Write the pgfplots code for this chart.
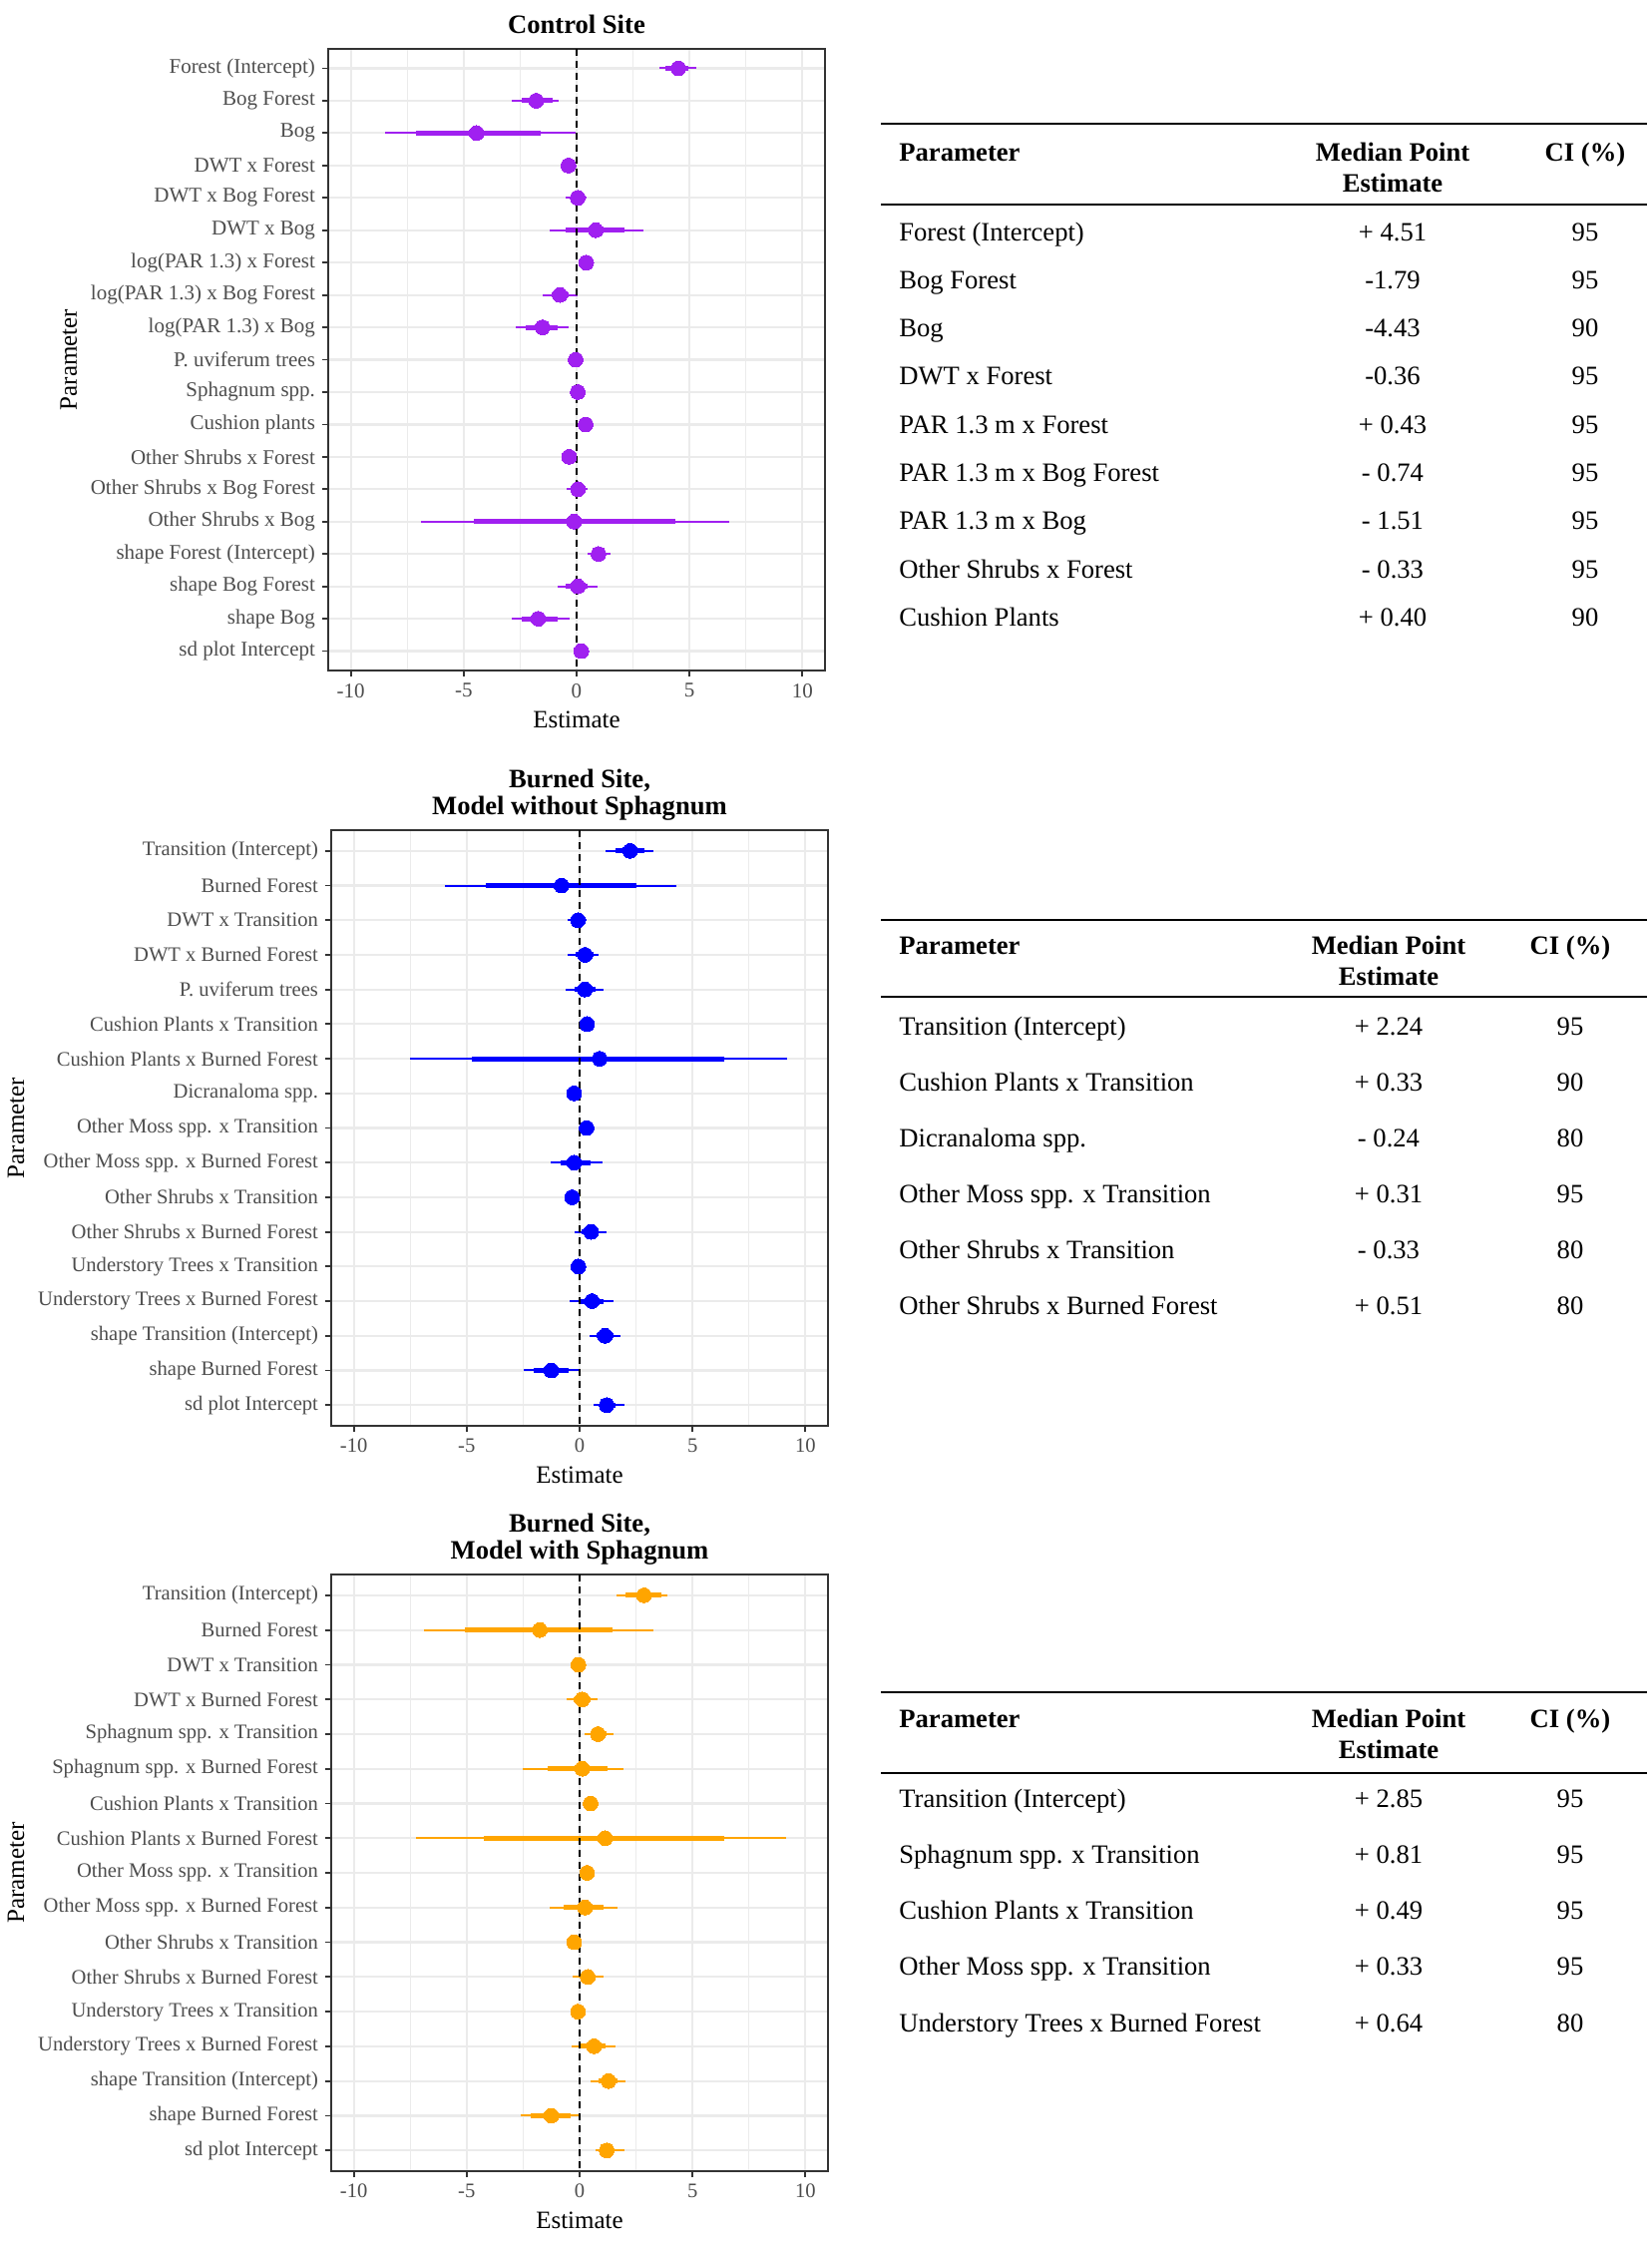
\documentclass[border=0pt]{standalone}
\usepackage{fontspec}
\setmainfont{Liberation Serif}
\usepackage{pgfplots}
\usepackage{pgfplotstable}
\pgfplotsset{compat=1.18}
\definecolor{cpurple}{HTML}{A020F0}
\definecolor{cblue}{HTML}{0000FF}
\definecolor{corange}{HTML}{FFA500}
\definecolor{gridc}{HTML}{EBEBEB}
\definecolor{g20}{HTML}{333333}
\definecolor{g30}{HTML}{4D4D4D}

% columns: y, outer low, inner low, median, inner high, outer high
\pgfplotstableread{
y lo ilo m ihi hi
1 3.66 3.95 4.51 4.96 5.28
2 -2.88 -2.43 -1.79 -1.07 -0.81
3 -8.46 -7.13 -4.43 -1.59 -0.04
4 -0.68 -0.52 -0.36 -0.20 -0.05
5 -0.47 -0.20 0.05 0.28 0.42
6 -1.21 -0.47 0.85 2.13 2.97
7 0.15 0.28 0.43 0.58 0.72
8 -1.48 -1.12 -0.74 -0.35 0.04
9 -2.70 -2.27 -1.51 -0.83 -0.37
10 -0.30 -0.17 -0.04 0.09 0.20
11 -0.22 -0.08 0.05 0.18 0.30
12 0.12 0.26 0.40 0.54 0.68
13 -0.62 -0.47 -0.33 -0.19 -0.05
14 -0.42 -0.16 0.06 0.27 0.49
15 -6.88 -4.55 -0.11 4.36 6.78
16 0.49 0.72 0.97 1.22 1.50
17 -0.83 -0.47 0.06 0.49 0.92
18 -2.88 -2.43 -1.70 -0.85 -0.33
19 0.02 0.10 0.21 0.32 0.42
}\tA

\pgfplotstableread{
y lo ilo m ihi hi
1 1.13 1.57 2.24 2.89 3.25
2 -5.98 -4.17 -0.80 2.53 4.29
3 -0.55 -0.30 -0.07 0.12 0.31
4 -0.53 -0.19 0.24 0.60 0.84
5 -0.60 -0.24 0.24 0.70 1.04
6 0.05 0.18 0.33 0.46 0.60
7 -7.52 -4.77 0.89 6.39 9.20
8 -0.55 -0.40 -0.24 -0.10 0.05
9 0.05 0.18 0.31 0.44 0.58
10 -1.28 -0.84 -0.24 0.48 1.01
11 -0.62 -0.48 -0.33 -0.20 -0.05
12 -0.24 0.10 0.51 0.85 1.20
13 -0.30 -0.16 -0.05 0.07 0.20
14 -0.43 0.00 0.55 1.08 1.52
15 0.43 0.75 1.13 1.50 1.81
16 -2.46 -2.05 -1.25 -0.48 0.05
17 0.60 0.90 1.20 1.60 1.98
}\tB

\pgfplotstableread{
y lo ilo m ihi hi
1 1.64 2.05 2.85 3.61 3.90
2 -6.87 -5.06 -1.76 1.45 3.25
3 -0.35 -0.20 -0.05 0.10 0.25
4 -0.58 -0.25 0.12 0.50 0.80
5 0.24 0.48 0.81 1.20 1.52
6 -2.53 -1.40 0.12 1.25 1.93
7 0.22 0.35 0.49 0.62 0.75
8 -7.23 -4.22 1.13 6.39 9.16
9 0.06 0.20 0.33 0.46 0.60
10 -1.33 -0.72 0.24 1.08 1.69
11 -0.50 -0.38 -0.24 -0.10 0.05
12 -0.29 0.05 0.36 0.72 1.04
13 -0.35 -0.20 -0.07 0.08 0.22
14 -0.36 0.05 0.64 1.16 1.61
15 0.48 0.85 1.28 1.70 2.05
16 -2.60 -2.17 -1.25 -0.41 0.05
17 0.72 0.95 1.20 1.55 1.98
}\tC

\pgfplotsset{
  fp/.style={
    scale only axis, width=249pt,
    xmin=-11, xmax=11, y dir=reverse,
    xtick={-10,-5,0,5,10}, xticklabels={-10,-5,0,5,10},
    minor xtick={-7.5,-2.5,2.5,7.5},
    xtick pos=bottom, ytick pos=left,
    grid=both,
    major grid style={draw=gridc, line width=1.1pt},
    minor grid style={draw=gridc, line width=0.55pt},
    axis line style={draw=g20, line width=1pt},
    tick align=outside, major tick length=3pt, minor tick length=0pt,
    tick style={draw=g20, line width=0.9pt},
    every tick label/.append style={font=\fontsize{#1}{12}\selectfont, text=g30},
    label style={font=\fontsize{12.5}{14}\selectfont},
    xlabel={Estimate}, ylabel={Parameter},
    title style={font=\fontsize{13.3}{13.3}\selectfont\bfseries, align=center, anchor=south, inner sep=0pt},
    anchor=south west,
  },
  outer/.style={only marks, mark=*, mark size=3.7pt, color=#1,
    mark options={fill=#1, draw=#1, line width=0pt},
    error bars/.cd, x dir=both, x explicit, error mark=none,
    error bar style={line width=1pt, color=#1}},
  inner/.style={only marks, mark=*, mark size=3.7pt, color=#1,
    mark options={fill=#1, draw=#1, line width=0pt},
    error bars/.cd, x dir=both, x explicit, error mark=none,
    error bar style={line width=2.5pt, color=#1}},
  zeroline/.style={black, line width=0.85pt, dash pattern=on 3.5pt off 2.5pt},
}

\begin{document}
\begin{tikzpicture}[x=0.5pt, y=-0.5pt]
\path[use as bounding box] (0,0) rectangle (1656,2251);

% ---------------- Panel 1 ----------------
\begin{axis}[fp=10.5, at={(164.5pt,-336pt)}, height=311.5pt,
  ymin=0.4, ymax=19.6, ytick={1,...,19},
  yticklabels={Forest (Intercept), Bog Forest, Bog, DWT x Forest, DWT x Bog Forest, DWT x Bog,
    log(PAR 1.3) x Forest, log(PAR 1.3) x Bog Forest, log(PAR 1.3) x Bog, P. uviferum trees,
    Sphagnum spp., Cushion plants, Other Shrubs x Forest, Other Shrubs x Bog Forest,
    Other Shrubs x Bog, shape Forest (Intercept), shape Bog Forest, shape Bog, sd plot Intercept},
  title={Control Site}, title style={yshift=1.5pt}]
\addplot[outer=cpurple] table[x=m, y=y, x error plus expr=\thisrow{hi}-\thisrow{m}, x error minus expr=\thisrow{m}-\thisrow{lo}] {\tA};
\addplot[inner=cpurple] table[x=m, y=y, x error plus expr=\thisrow{ihi}-\thisrow{m}, x error minus expr=\thisrow{m}-\thisrow{ilo}] {\tA};
\addplot[zeroline] coordinates {(0,0.4) (0,19.6)};
\end{axis}

% ---------------- Panel 2 ----------------
\begin{axis}[fp=10.3, at={(166pt,-714.5pt)}, height=298.5pt,
  ymin=0.4, ymax=17.6, ytick={1,...,17},
  yticklabels={Transition (Intercept), Burned Forest, DWT x Transition, DWT x Burned Forest,
    P. uviferum trees, Cushion Plants x Transition, Cushion Plants x Burned Forest, Dicranaloma spp.,
    Other Moss spp. x Transition, Other Moss spp. x Burned Forest, Other Shrubs x Transition,
    Other Shrubs x Burned Forest, Understory Trees x Transition, Understory Trees x Burned Forest,
    shape Transition (Intercept), shape Burned Forest, sd plot Intercept},
  title={Burned Site,\\Model without Sphagnum}, title style={yshift=-1.4pt}]
\addplot[outer=cblue] table[x=m, y=y, x error plus expr=\thisrow{hi}-\thisrow{m}, x error minus expr=\thisrow{m}-\thisrow{lo}] {\tB};
\addplot[inner=cblue] table[x=m, y=y, x error plus expr=\thisrow{ihi}-\thisrow{m}, x error minus expr=\thisrow{m}-\thisrow{ilo}] {\tB};
\addplot[zeroline] coordinates {(0,0.4) (0,17.6)};
\end{axis}

% ---------------- Panel 3 ----------------
\begin{axis}[fp=10.3, at={(166pt,-1088pt)}, height=299pt,
  ymin=0.4, ymax=17.6, ytick={1,...,17},
  yticklabels={Transition (Intercept), Burned Forest, DWT x Transition, DWT x Burned Forest,
    Sphagnum spp. x Transition, Sphagnum spp. x Burned Forest, Cushion Plants x Transition,
    Cushion Plants x Burned Forest, Other Moss spp. x Transition, Other Moss spp. x Burned Forest,
    Other Shrubs x Transition, Other Shrubs x Burned Forest, Understory Trees x Transition,
    Understory Trees x Burned Forest, shape Transition (Intercept), shape Burned Forest, sd plot Intercept},
  title={Burned Site,\\Model with Sphagnum}, title style={yshift=-1.4pt}]
\addplot[outer=corange] table[x=m, y=y, x error plus expr=\thisrow{hi}-\thisrow{m}, x error minus expr=\thisrow{m}-\thisrow{lo}] {\tC};
\addplot[inner=corange] table[x=m, y=y, x error plus expr=\thisrow{ihi}-\thisrow{m}, x error minus expr=\thisrow{m}-\thisrow{ilo}] {\tC};
\addplot[zeroline] coordinates {(0,0.4) (0,17.6)};
\end{axis}

% ---------------- Tables ----------------
\begin{scope}[font=\fontsize{13.3}{16}\selectfont, every node/.style={inner sep=0pt}]
% Table 1
\draw[line width=1.3pt] (883,124) -- (1651,124);
\draw[line width=1.3pt] (883,205) -- (1651,205);
\node[anchor=base west] at (901,161) {\bfseries Parameter};
\node[anchor=base] at (1396,161) {\bfseries Median Point};
\node[anchor=base] at (1396,192) {\bfseries Estimate};
\node[anchor=base] at (1589,161) {\bfseries CI (\%)};
\foreach \a/\b/\c [count=\i from 0] in {Forest (Intercept)/+ 4.51/95, Bog Forest/-1.79/95, Bog/-4.43/90,
  DWT x Forest/-0.36/95, PAR 1.3 m x Forest/+ 0.43/95, PAR 1.3 m x Bog Forest/- 0.74/95,
  PAR 1.3 m x Bog/- 1.51/95, Other Shrubs x Forest/- 0.33/95, Cushion Plants/+ 0.40/90}{
  \node[anchor=base west] at (901,{241+48.3*\i}) {\a};
  \node[anchor=base] at (1396,{241+48.3*\i}) {\b};
  \node[anchor=base] at (1589,{241+48.3*\i}) {\c};
}
% Table 2
\draw[line width=1.3pt] (883,922) -- (1651,922);
\draw[line width=1.3pt] (883,999) -- (1651,999);
\node[anchor=base west] at (901,956) {\bfseries Parameter};
\node[anchor=base] at (1392,956) {\bfseries Median Point};
\node[anchor=base] at (1392,987) {\bfseries Estimate};
\node[anchor=base] at (1574,956) {\bfseries CI (\%)};
\foreach \a/\b/\c [count=\i from 0] in {Transition (Intercept)/+ 2.24/95, Cushion Plants x Transition/+ 0.33/90,
  Dicranaloma spp./- 0.24/80, Other Moss spp. x Transition/+ 0.31/95, Other Shrubs x Transition/- 0.33/80,
  Other Shrubs x Burned Forest/+ 0.51/80}{
  \node[anchor=base west] at (901,{1037+56*\i}) {\a};
  \node[anchor=base] at (1392,{1037+56*\i}) {\b};
  \node[anchor=base] at (1574,{1037+56*\i}) {\c};
}
% Table 3
\draw[line width=1.3pt] (883,1696) -- (1651,1696);
\draw[line width=1.3pt] (883,1777) -- (1651,1777);
\node[anchor=base west] at (901,1731) {\bfseries Parameter};
\node[anchor=base] at (1392,1731) {\bfseries Median Point};
\node[anchor=base] at (1392,1762) {\bfseries Estimate};
\node[anchor=base] at (1574,1731) {\bfseries CI (\%)};
\foreach \a/\b/\c [count=\i from 0] in {Transition (Intercept)/+ 2.85/95, Sphagnum spp. x Transition/+ 0.81/95,
  Cushion Plants x Transition/+ 0.49/95, Other Moss spp. x Transition/+ 0.33/95,
  Understory Trees x Burned Forest/+ 0.64/80}{
  \node[anchor=base west] at (901,{1811+56.3*\i}) {\a};
  \node[anchor=base] at (1392,{1811+56.3*\i}) {\b};
  \node[anchor=base] at (1574,{1811+56.3*\i}) {\c};
}
\end{scope}
\end{tikzpicture}
\end{document}
